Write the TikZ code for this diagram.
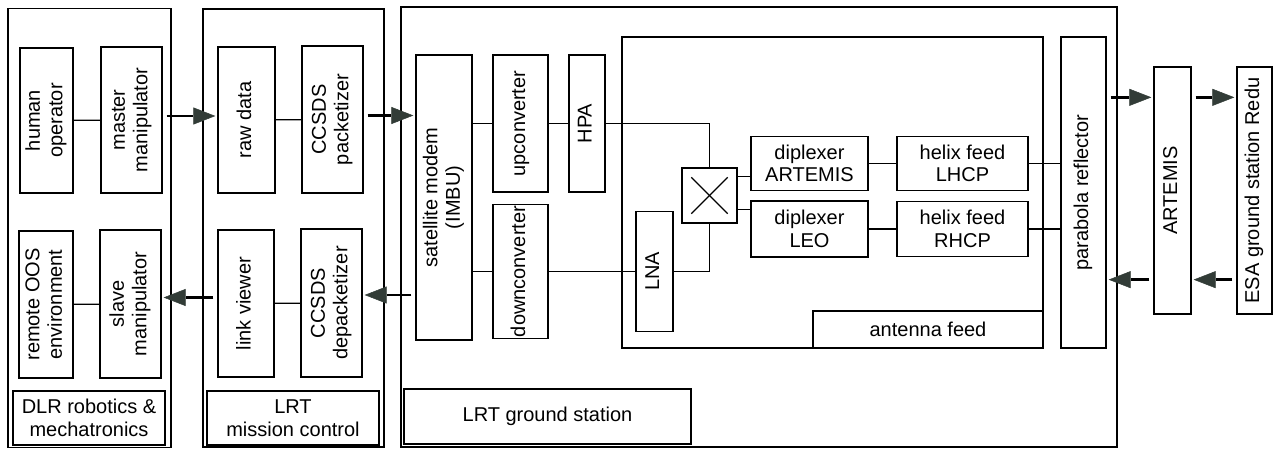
\documentclass[tikz,border=0pt]{standalone}
\usepackage{fontspec}
\setmainfont{Liberation Sans}
\usetikzlibrary{arrows.meta}
\definecolor{spitze}{RGB}{50,60,55}
\newcommand{\hoch}[1]{\rotatebox{90}{\begin{tabular}{@{}c@{}}#1\end{tabular}}}
\tikzset{
  rahmen/.style = {rectangle, draw, line width=1.3pt, inner sep=0},
  blk/.style    = {rectangle, draw, line width=1.3pt, inner sep=0, align=center, font=\fontsize{20}{22.5}\selectfont},
  link/.style   = {line width=1.2pt},
  pfeil/.style  = {line width=2.8pt, -{Triangle[length=22pt,width=17pt,line width=0.5pt,color=spitze]}, shorten <=4pt, shorten >=2pt}
}
\begin{document}
\begin{tikzpicture}[x=1pt,y=-1pt]
  \useasboundingbox (0,0) rectangle (1273,449);

  % ---- DLR robotics & mechatronics ----
  \node[rahmen, minimum width=163pt, minimum height=439pt] (dlr) at (89.5,228) {};
  \node[blk, minimum width=53pt, minimum height=145pt] (hum)    at (46.5,120.5) {\hoch{human\\operator}};
  \node[blk, minimum width=61pt, minimum height=146pt] (master) at (131.5,120) {\hoch{master\\manipulator}};
  \node[blk, minimum width=54pt, minimum height=147pt] (oos)    at (46,304.5)   {\hoch{remote OOS\\environment}};
  \node[blk, minimum width=61pt, minimum height=148pt] (slave)  at (130.5,304)  {\hoch{slave\\manipulator}};
  \node[blk, minimum width=152pt, minimum height=54pt] (dlrtit) at (89,418)     {DLR robotics \&\\mechatronics};
  \draw[link] (hum) -- (master);
  \draw[link] (oos) -- (slave);

  % ---- LRT mission control ----
  \node[rahmen, minimum width=181pt, minimum height=438pt] (mc) at (293.5,228) {};
  \node[blk, minimum width=57pt, minimum height=146pt] (raw)    at (246.5,120)  {\hoch{raw data}};
  \node[blk, minimum width=61pt, minimum height=147pt] (pack)   at (332.5,119.5) {\hoch{CCSDS\\packetizer}};
  \node[blk, minimum width=56pt, minimum height=147pt] (viewer) at (246,303.5)  {\hoch{link viewer}};
  \node[blk, minimum width=61pt, minimum height=148pt] (depack) at (331.5,303)  {\hoch{CCSDS\\depacketizer}};
  \node[blk, minimum width=172pt, minimum height=54pt] (mctit)  at (293,418)    {LRT\\mission control};
  \draw[link] (raw) -- (pack);
  \draw[link] (viewer) -- (depack);

  % ---- LRT ground station ----
  \node[rahmen, minimum width=716pt, minimum height=440pt] (gs) at (759,227) {};
  \node[blk, minimum width=56pt, minimum height=285pt] (modem) at (444,197.5) {\hoch{satellite modem\\(IMBU)}};
  \node[blk, minimum width=55pt, minimum height=137pt] (up)    at (520.5,123.5) {\hoch{upconverter}};
  \node[blk, minimum width=36pt, minimum height=137pt] (hpa)   at (587,123.5)   {\hoch{HPA}};
  \node[blk, minimum width=55pt, minimum height=134pt] (down)  at (520.5,271.5) {\hoch{downconverter}};
  \node[blk, minimum width=287pt, minimum height=55pt] (gstit) at (547.5,416.5) {LRT ground station};

  % ---- antenna feed ----
  \node[rahmen, minimum width=421pt, minimum height=311pt] (feed) at (832.5,192.5) {};
  \node[blk, minimum width=37pt, minimum height=120pt] (lna)   at (654.5,271.5) {\hoch{LNA}};
  \node[blk, minimum width=55pt, minimum height=55pt]  (cross) at (709.5,195.5) {};
  \node[blk, minimum width=117pt, minimum height=54pt] (dipA)  at (809.5,163.5) {diplexer\\ARTEMIS};
  \node[blk, minimum width=117pt, minimum height=56pt] (dipL)  at (809.5,229)   {diplexer\\LEO};
  \node[blk, minimum width=131pt, minimum height=54pt] (helL)  at (962.5,163.5) {helix feed\\LHCP};
  \node[blk, minimum width=131pt, minimum height=55pt] (helR)  at (962.5,229)   {helix feed\\RHCP};
  \node[blk, minimum width=230pt, minimum height=37pt] (feedtit) at (928,329.5)  {antenna feed};
  \node[blk, minimum width=45pt, minimum height=311pt] (para)  at (1083.5,192.5) {\hoch{parabola reflector}};
  \draw[link] ([shift={(10pt,-10pt)}]cross.north west) -- ([shift={(-10pt,10pt)}]cross.south east);
  \draw[link] ([shift={(-10pt,-10pt)}]cross.north east) -- ([shift={(10pt,10pt)}]cross.south west);

  \draw[link] (up.west -| modem.east) -- (up.west);
  \draw[link] (up) -- (hpa);
  \draw[link] (hpa.east) -| (cross.north);
  \draw[link] (down.west -| modem.east) -- (down.west);
  \draw[link] (down) -- (lna);
  \draw[link] (lna.east) -| (cross.south);
  \draw[link] ([yshift=-9pt]cross.north east) -- ([yshift=-9pt]cross.north east -| dipA.west);
  \draw[link] ([yshift=14pt]cross.south east) -- ([yshift=14pt]cross.south east -| dipL.west);
  \draw[link] (dipA) -- (helL);
  \draw[link] (dipL) -- (helR);
  \draw[link] (helL.east) -- (helL.east -| para.west);
  \draw[link] (helR.east) -- (helR.east -| para.west);

  % ---- ARTEMIS und ESA ----
  \node[blk, minimum width=37pt, minimum height=247pt] (art) at (1172.5,190.5) {\hoch{ARTEMIS}};
  \node[blk, minimum width=35pt, minimum height=247pt] (esa) at (1254.5,190.5) {\hoch{ESA ground station Redu}};
  \coordinate (hin)  at ([yshift=-31pt]art.north);
  \coordinate (rueck) at ([yshift=35pt]art.south);

  % ---- Datenpfeile ----
  \draw[pfeil] ([yshift=4pt]master.east) -- ([yshift=4pt]raw.west);
  \draw[pfeil] ([yshift=4pt]pack.east) -- ([yshift=4pt]pack.east -| modem.west);
  \draw[pfeil] (hin -| para.east) -- (hin -| art.west);
  \draw[pfeil] (hin -| art.east) -- (hin -| esa.west);
  \draw[pfeil] (rueck -| esa.west) -- (rueck -| art.east);
  \draw[pfeil] (rueck -| art.west) -- (rueck -| para.east);
  \draw[pfeil] ([yshift=8pt]depack.east -| modem.west) -- ([yshift=8pt]depack.east);
  \draw[pfeil] ([yshift=6pt]viewer.west) -- ([yshift=6pt]viewer.west -| slave.east);
\end{tikzpicture}
\end{document}
